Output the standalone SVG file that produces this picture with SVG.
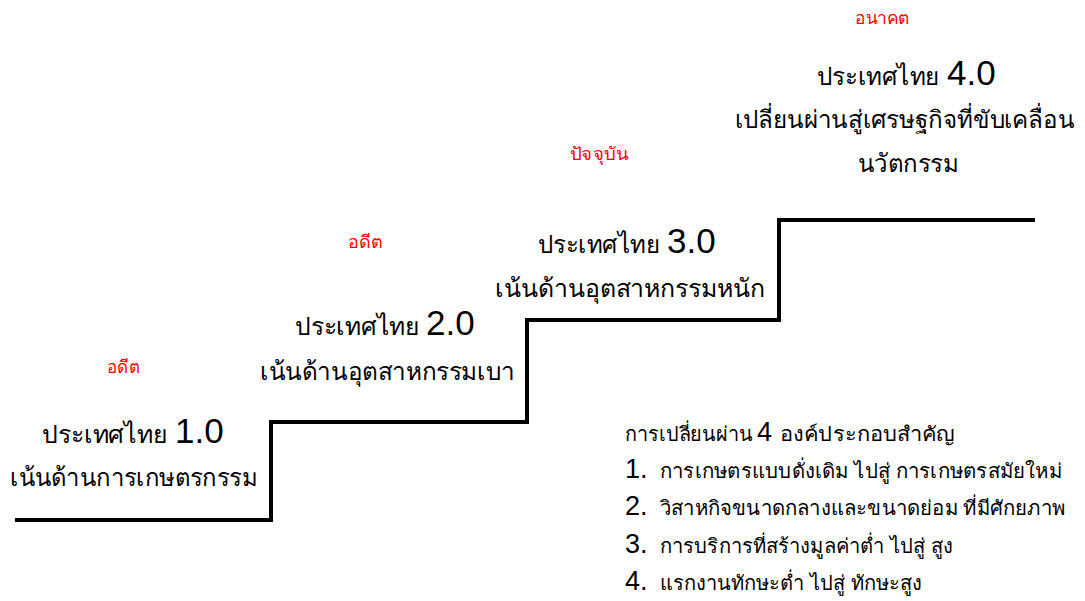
<svg xmlns="http://www.w3.org/2000/svg" width="1085" height="601" viewBox="0 0 1085 601">
<style>
text{font-family:"Liberation Sans","Noto Sans",sans-serif;fill:#000}
.era{fill:#ff0000;font-size:18px}
.t{font-size:25px}
.num{font-size:35px}
.lst{font-size:20px}
.ln{font-size:27px}
</style>
<rect width="1085" height="601" fill="#fff"/>
<g id="connectors">
<polyline points="15,520 271,520 271,422 527,422 527,320 779,320 779,220 1035,220" fill="none" stroke="#000" stroke-width="4"/>
</g>
<g id="step1">
<text class="era" x="107" y="373" textLength="33" lengthAdjust="spacingAndGlyphs">อดีต</text>
<text class="t" x="42" y="443" textLength="126" lengthAdjust="spacingAndGlyphs">ประเทศไทย</text>
<text class="num" x="175" y="443">1.0</text>
<text class="t" x="10" y="486" textLength="247" lengthAdjust="spacingAndGlyphs">เน้นด้านการเกษตรกรรม</text>
</g>
<g id="step2">
<text class="era" x="348" y="248" textLength="35" lengthAdjust="spacingAndGlyphs">อดีต</text>
<text class="t" x="295" y="335" textLength="125" lengthAdjust="spacingAndGlyphs">ประเทศไทย</text>
<text class="num" x="426" y="335">2.0</text>
<text class="t" x="260" y="380" textLength="255" lengthAdjust="spacingAndGlyphs">เน้นด้านอุตสาหกรรมเบา</text>
</g>
<g id="step3">
<text class="era" x="570" y="160" textLength="58" lengthAdjust="spacingAndGlyphs">ปัจจุบัน</text>
<text class="t" x="538" y="253" textLength="122" lengthAdjust="spacingAndGlyphs">ประเทศไทย</text>
<text class="num" x="667" y="253">3.0</text>
<text class="t" x="495" y="297" textLength="270" lengthAdjust="spacingAndGlyphs">เน้นด้านอุตสาหกรรมหนัก</text>
</g>
<g id="step4">
<text class="era" x="855" y="24" textLength="55" lengthAdjust="spacingAndGlyphs">อนาคต</text>
<text class="t" x="817" y="85" textLength="123" lengthAdjust="spacingAndGlyphs">ประเทศไทย</text>
<text class="num" x="947" y="85">4.0</text>
<text class="t" x="735" y="128" style="font-size:24.3px" textLength="340" lengthAdjust="spacingAndGlyphs">เปลี่ยนผ่านสู่เศรษฐกิจที่ขับเคลื่อน</text>
<text class="t" x="858" y="172" textLength="100" lengthAdjust="spacingAndGlyphs">นวัตกรรม</text>
</g>
<g id="list">
<text class="lst" x="625" y="441" textLength="128" lengthAdjust="spacingAndGlyphs">การเปลี่ยนผ่าน</text>
<text class="ln" x="757" y="441">4</text>
<text class="lst" x="780" y="441" textLength="175" lengthAdjust="spacingAndGlyphs">องค์ประกอบสำคัญ</text>
<text class="ln" x="625" y="478">1.</text>
<text class="lst" x="660" y="478" textLength="402" lengthAdjust="spacingAndGlyphs">การเกษตรแบบดั่งเดิม ไปสู่ การเกษตรสมัยใหม่</text>
<text class="ln" x="625" y="515">2.</text>
<text class="lst" x="660" y="515" textLength="405" lengthAdjust="spacingAndGlyphs">วิสาหกิจขนาดกลางและขนาดย่อม ที่มีศักยภาพ</text>
<text class="ln" x="625" y="553">3.</text>
<text class="lst" x="660" y="553" textLength="293" lengthAdjust="spacingAndGlyphs">การบริการที่สร้างมูลค่าต่ำ ไปสู่  สูง</text>
<text class="ln" x="625" y="590">4.</text>
<text class="lst" x="660" y="590" textLength="262" lengthAdjust="spacingAndGlyphs">แรกงานทักษะต่ำ ไปสู่ ทักษะสูง</text>
</g>
</svg>
